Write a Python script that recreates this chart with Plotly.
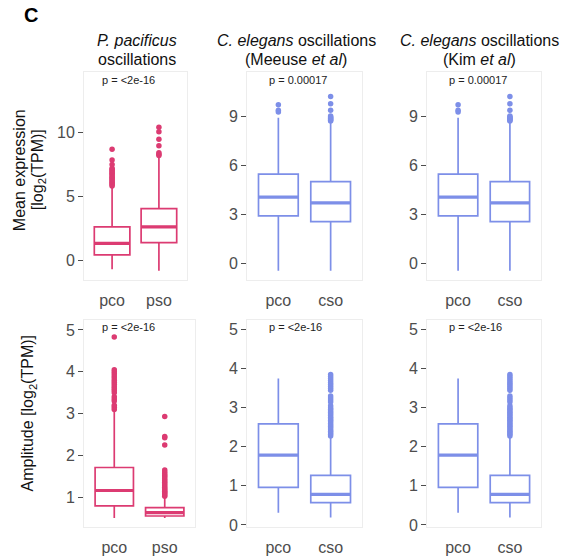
import plotly.graph_objects as go

W, H = 564, 558

# ---------------- data ----------------
cats_pp = ["pco", "pso"]
cats_ce = ["pco", "cso"]

# P. pacificus mean expression
pp_mean_lower = [-0.72, -0.83]
pp_mean_q1 = [0.42, 1.38]
pp_mean_median = [1.32, 2.60]
pp_mean_q3 = [2.60, 4.04]
pp_mean_upper = [5.75, 8.03]
pp_mean_out_pco = [5.8, 5.9, 6.0, 6.1, 6.2, 6.3, 6.4, 6.5, 6.6, 6.7, 6.8, 6.9, 7.0, 7.1, 7.2, 7.5, 7.85, 8.68]
pp_mean_out_pso = [8.2, 8.3, 8.42, 8.97, 9.48, 10.05, 10.41]

# C. elegans mean expression (Meeuse et al / Kim et al)
ce_mean_lower = [-0.44, -0.44]
ce_mean_q1 = [2.90, 2.55]
ce_mean_median = [4.05, 3.70]
ce_mean_q3 = [5.45, 5.00]
ce_mean_upper = [8.90, 8.65]
ce_mean_out_pco = [9.25, 9.35, 9.70]
ce_mean_out_cso = [8.70, 8.75, 8.80, 8.85, 8.90, 8.95, 9.00, 9.35, 9.75, 10.20]

# P. pacificus amplitude
pp_amp_lower = [0.50, 0.50]
pp_amp_q1 = [0.79, 0.55]
pp_amp_median = [1.16, 0.63]
pp_amp_q3 = [1.71, 0.75]
pp_amp_upper = [3.08, 0.99]
pp_amp_out_pco = [3.10, 3.15, 3.20, 3.30, 3.35, 3.40, 3.50, 3.55, 3.60, 3.65, 3.70,
                  3.75, 3.80, 3.85, 3.90, 3.95, 4.00, 4.05, 4.83]
pp_amp_out_pso = [1.02, 1.05, 1.08, 1.11, 1.14, 1.17, 1.20, 1.24, 1.28, 1.32, 1.36,
                  1.40, 1.44, 1.48, 1.52, 1.56, 1.60, 1.65, 2.25, 2.42, 2.45, 2.93]

# C. elegans amplitude
ce_amp_lower = [0.31, 0.19]
ce_amp_q1 = [0.96, 0.57]
ce_amp_median = [1.79, 0.78]
ce_amp_q3 = [2.59, 1.27]
ce_amp_upper = [3.75, 2.25]
ce_amp_out_pco = []
ce_amp_out_cso = [2.28, 2.32, 2.36, 2.40, 2.44, 2.48, 2.52, 2.56, 2.60, 2.64, 2.68,
                  2.72, 2.76, 2.80, 2.84, 2.88, 2.92, 2.96, 3.00, 3.05, 3.15, 3.20,
                  3.25, 3.30, 3.45, 3.50, 3.55, 3.60, 3.65, 3.70, 3.75, 3.80, 3.85]

p_labels = ["p = &lt;2e-16", "p = 0.00017", "p = 0.00017",
            "p = &lt;2e-16", "p = &lt;2e-16", "p = &lt;2e-16"]
title_line1 = ["<i>P. pacificus</i>",
               "<i>C. elegans</i> oscillations",
               "<i>C. elegans</i> oscillations"]
title_line2 = ["oscillations",
               "(Meeuse <i>et al</i>)",
               "(Kim <i>et al</i>)"]

PINK = "#DC3B72"
BLUE = "#7D8FE8"
FONT = "Liberation Sans, Arial, sans-serif"

# ---------------- layout geometry (pixels) ----------------
col_x = [(84, 187), (247, 362), (427, 541)]
col_x_bottom = [(84, 195), (247, 362), (427, 541)]
row_y = [(73, 283), (323, 533)]


def px_x(x):
    return x / W


def px_y(y):
    return 1 - y / H


panels = [
    dict(cats=cats_pp, lo=pp_mean_lower, q1=pp_mean_q1, md=pp_mean_median, q3=pp_mean_q3,
         up=pp_mean_upper, out=[pp_mean_out_pco, pp_mean_out_pso], color=PINK,
         yr=[-1.55, 14.72], ticks=[0, 5, 10]),
    dict(cats=cats_ce, lo=ce_mean_lower, q1=ce_mean_q1, md=ce_mean_median, q3=ce_mean_q3,
         up=ce_mean_upper, out=[ce_mean_out_pco, ce_mean_out_cso], color=BLUE,
         yr=[-1.01, 11.68], ticks=[0, 3, 6, 9]),
    dict(cats=cats_ce, lo=ce_mean_lower, q1=ce_mean_q1, md=ce_mean_median, q3=ce_mean_q3,
         up=ce_mean_upper, out=[ce_mean_out_pco, ce_mean_out_cso], color=BLUE,
         yr=[-1.01, 11.68], ticks=[0, 3, 6, 9]),
    dict(cats=cats_pp, lo=pp_amp_lower, q1=pp_amp_q1, md=pp_amp_median, q3=pp_amp_q3,
         up=pp_amp_upper, out=[pp_amp_out_pco, pp_amp_out_pso], color=PINK,
         yr=[0.28, 5.25], ticks=[1, 2, 3, 4, 5]),
    dict(cats=cats_ce, lo=ce_amp_lower, q1=ce_amp_q1, md=ce_amp_median, q3=ce_amp_q3,
         up=ce_amp_upper, out=[ce_amp_out_pco, ce_amp_out_cso], color=BLUE,
         yr=[-0.06, 5.26], ticks=[0, 1, 2, 3, 4, 5]),
    dict(cats=cats_ce, lo=ce_amp_lower, q1=ce_amp_q1, md=ce_amp_median, q3=ce_amp_q3,
         up=ce_amp_upper, out=[ce_amp_out_pco, ce_amp_out_cso], color=BLUE,
         yr=[-0.06, 5.26], ticks=[0, 1, 2, 3, 4, 5]),
]

fig = go.Figure()
layout = dict()
annotations = []

for i, p in enumerate(panels):
    n = i + 1
    xa = "x" if n == 1 else f"x{n}"
    ya = "y" if n == 1 else f"y{n}"
    row, col = divmod(i, 3)
    xs = (col_x if row == 0 else col_x_bottom)[col]
    ys = row_y[row]
    for j, c in enumerate(p["cats"]):
        fig.add_trace(go.Box(
            x=[c], q1=[p["q1"][j]], median=[p["md"][j]], q3=[p["q3"][j]],
            lowerfence=[p["lo"][j]], upperfence=[p["up"][j]],
            boxpoints=False, width=0.76, whiskerwidth=0,
            fillcolor="white", line=dict(color=p["color"], width=1.7),
            xaxis=xa, yaxis=ya, showlegend=False, hoverinfo="skip"))
        fig.add_trace(go.Box(
            x=[c], q1=[p["md"][j]], median=[p["md"][j]], q3=[p["md"][j]],
            lowerfence=[p["md"][j]], upperfence=[p["md"][j]],
            boxpoints=False, width=0.76, whiskerwidth=0,
            fillcolor="rgba(0,0,0,0)", line=dict(color=p["color"], width=3.2),
            xaxis=xa, yaxis=ya, showlegend=False, hoverinfo="skip"))
        if p["out"][j]:
            fig.add_trace(go.Scatter(
                x=[c] * len(p["out"][j]), y=p["out"][j], mode="markers",
                marker=dict(color=p["color"], size=5.5),
                xaxis=xa, yaxis=ya, showlegend=False, hoverinfo="skip"))

    layout[("xaxis" if n == 1 else f"xaxis{n}")] = dict(
        domain=[px_x(xs[0]), px_x(xs[1])], anchor=ya,
        type="category", categoryorder="array", categoryarray=p["cats"],
        range=[-0.6, 1.6], showgrid=False, zeroline=False,
        showline=True, mirror=True, linecolor="#EDEDED", linewidth=1,
        ticks="outside", ticklen=6, tickcolor="rgba(0,0,0,0)",
        tickfont=dict(size=16, color="#4D4D4D", family=FONT))
    layout[("yaxis" if n == 1 else f"yaxis{n}")] = dict(
        domain=[px_y(ys[1]), px_y(ys[0])], anchor=xa,
        range=p["yr"], tickvals=p["ticks"], showgrid=False, zeroline=False,
        showline=True, mirror=True, linecolor="#EDEDED", linewidth=1,
        ticks="outside", ticklen=5, tickwidth=1, tickcolor="#4D4D4D",
        tickfont=dict(size=16, color="#4D4D4D", family=FONT))

    annotations.append(dict(
        text=p_labels[i], xref="paper", yref="paper",
        x=px_x(xs[0] + 16 if col == 0 else xs[0] + 20), y=px_y(ys[0] + 8),
        xanchor="left", yanchor="middle", showarrow=False,
        font=dict(size=11, color="#222222", family=FONT)))

# column titles (two lines each)
title_cx = [137, 296, 479]
for t1, t2, cx in zip(title_line1, title_line2, title_cx):
    annotations.append(dict(
        text=t1, xref="paper", yref="paper", x=px_x(cx), y=px_y(41),
        xanchor="center", yanchor="middle", showarrow=False,
        font=dict(size=16, color="#111111", family=FONT)))
    annotations.append(dict(
        text=t2, xref="paper", yref="paper", x=px_x(cx), y=px_y(60),
        xanchor="center", yanchor="middle", showarrow=False,
        font=dict(size=16, color="#111111", family=FONT)))

# y-axis titles
annotations.append(dict(
    text="Mean expression", xref="paper", yref="paper",
    x=px_x(19), y=px_y(172), textangle=-90, xanchor="center", yanchor="middle",
    showarrow=False, font=dict(size=16, color="#111111", family=FONT)))
annotations.append(dict(
    text="[log<sub>2</sub>(TPM)]", xref="paper", yref="paper",
    x=px_x(38), y=px_y(172), textangle=-90, xanchor="center", yanchor="middle",
    showarrow=False, font=dict(size=16, color="#111111", family=FONT)))
annotations.append(dict(
    text="Amplitude [log<sub>2</sub>(TPM)]", xref="paper", yref="paper",
    x=px_x(29), y=px_y(418), textangle=-90, xanchor="center", yanchor="middle",
    showarrow=False, font=dict(size=16, color="#111111", family=FONT)))

# panel letter
annotations.append(dict(
    text="<b>C</b>", xref="paper", yref="paper", x=px_x(31), y=px_y(15),
    xanchor="center", yanchor="middle", showarrow=False,
    font=dict(size=20, color="#000000", family=FONT)))

fig.update_layout(
    width=W, height=H, margin=dict(l=0, r=0, t=0, b=0),
    paper_bgcolor="white", plot_bgcolor="white",
    boxmode="overlay", showlegend=False, hovermode=False,
    annotations=annotations, **layout)

fig.write_html("out.html", config={"displayModeBar": False},
               post_script="document.body.style.margin='0';document.body.style.padding='0';")
